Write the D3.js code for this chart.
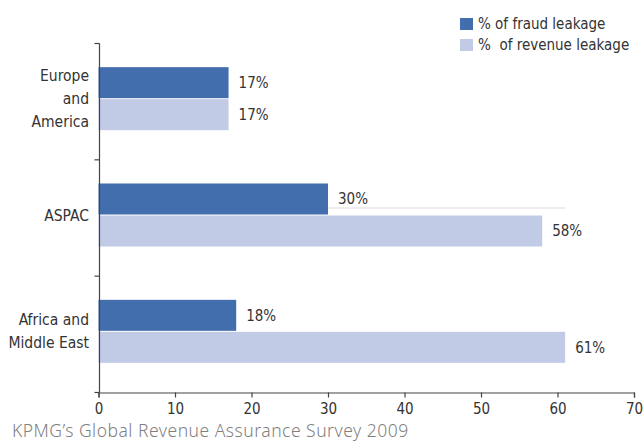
<!DOCTYPE html>
<html>
<head>
<meta charset="utf-8">
<script src="https://cdn.jsdelivr.net/npm/d3@7"></script>
<style>
  html, body { margin: 0; padding: 0; background: #fff; }
  svg { display: block; }
  .cond { font-family: "Liberation Sans Narrow", "DejaVu Sans Condensed", "Roboto Condensed", "Arial Narrow", sans-serif; font-stretch: condensed; fill: #333; }
  .src { font-family: "Noto Sans", "Open Sans", sans-serif; font-weight: 300; fill: #808080; letter-spacing: 0.5px; }
</style>
</head>
<body>
<svg id="chart" width="644" height="445"></svg>
<script>
// Regions shown on the vertical axis, top to bottom
const regions = ["Europe and America", "ASPAC", "Africa and Middle East"];
// Label lines for each region
const regionLines = [["Europe", "and", "America"], ["ASPAC"], ["Africa and", "Middle East"]];
// Series
const seriesNames = ["% of fraud leakage", "%  of revenue leakage"];
const fraudLeakage = [17, 30, 18];
const revenueLeakage = [17, 58, 61];
// X axis ticks
const xTicks = [0, 10, 20, 30, 40, 50, 60, 70];
const sourceNote = "KPMG\u2019s Global Revenue Assurance Survey 2009";

const colors = ["#436eae", "#c2cbe5"];

const svg = d3.select("#chart");

const x = d3.scaleLinear().domain([0, 70]).range([98.5, 634]);
const y = d3.scaleBand().domain(regions).range([43.5, 392.5]);
const barH = 31, gap = 1;
const groupH = barH * 2 + gap;
const groupTop = r => y(r) + y.bandwidth() / 2 - 3 - groupH / 2;

const rows = regions.map((r, i) => ({ region: r, lines: regionLines[i], values: [fraudLeakage[i], revenueLeakage[i]] }));

// Faint rule across the ASPAC group
const aspac = rows[1];
svg.append("line")
  .attr("x1", x(aspac.values[0])).attr("x2", x(revenueLeakage[2]))
  .attr("y1", groupTop(aspac.region) + barH - 6.5).attr("y2", groupTop(aspac.region) + barH - 6.5)
  .attr("stroke", "#dcdcdc").attr("stroke-width", 1);

// Bars
const g = svg.append("g");
rows.forEach(row => {
  row.values.forEach((v, k) => {
    const top = groupTop(row.region) + k * (barH + gap);
    g.append("rect")
      .attr("x", x(0)).attr("y", top)
      .attr("width", x(v) - x(0)).attr("height", barH)
      .attr("fill", colors[k]);
    g.append("text").attr("class", "cond")
      .attr("x", x(v) + 10).attr("y", top + barH / 2)
      .attr("dy", "0.36em")
      .style("font-size", "15px")
      .text(v + "%");
  });
});

// X axis
const xAxis = svg.append("g")
  .attr("transform", "translate(0,392.5)")
  .call(d3.axisBottom(x).tickValues(xTicks).tickSize(5).tickSizeOuter(5).tickPadding(5.5));
xAxis.selectAll("path, line").attr("stroke", "#444").attr("stroke-width", 1.2);
xAxis.selectAll("text").attr("class", "cond").style("font-size", "15px").attr("fill", "#333");

// Y axis: a line with ticks at the category boundaries
const yAxis = svg.append("g");
const x0 = Math.round(x(0)) + 0.5;
yAxis.append("line").attr("x1", x0).attr("x2", x0).attr("y1", y.range()[0]).attr("y2", y.range()[1])
  .attr("stroke", "#444").attr("stroke-width", 1.2);
const bounds = regions.map(r => y(r)).concat([y.range()[1]]);
yAxis.selectAll("line.tick").data(bounds).join("line").attr("class", "tick")
  .attr("x1", x0 - 5).attr("x2", x0).attr("y1", d => d).attr("y2", d => d)
  .attr("stroke", "#444").attr("stroke-width", 1.2);

// Category labels
const lineH = 23;
rows.forEach(row => {
  const cy = groupTop(row.region) + groupH / 2;
  const t = svg.append("text").attr("class", "cond")
    .attr("text-anchor", "end").style("font-size", "15.5px");
  row.lines.forEach((ln, i) => {
    t.append("tspan").attr("x", 89)
      .attr("y", cy + (i - (row.lines.length - 1) / 2) * lineH)
      .attr("dy", "0.36em").text(ln);
  });
});

// Legend
const legend = svg.append("g");
seriesNames.forEach((name, k) => {
  const ly = 18 + k * 21;
  legend.append("rect").attr("x", 460).attr("y", ly).attr("width", 13).attr("height", 12).attr("fill", colors[k]);
  legend.append("text").attr("class", "cond").attr("x", 478).attr("y", ly + 6)
    .attr("dy", "0.36em").style("font-size", "15px").style("white-space", "pre").attr("xml:space", "preserve").text(name);
});

// Source note
svg.append("text").attr("class", "src").attr("x", 12).attr("y", 436.5)
  .style("font-size", "17.5px").text(sourceNote);
</script>
</body>
</html>
